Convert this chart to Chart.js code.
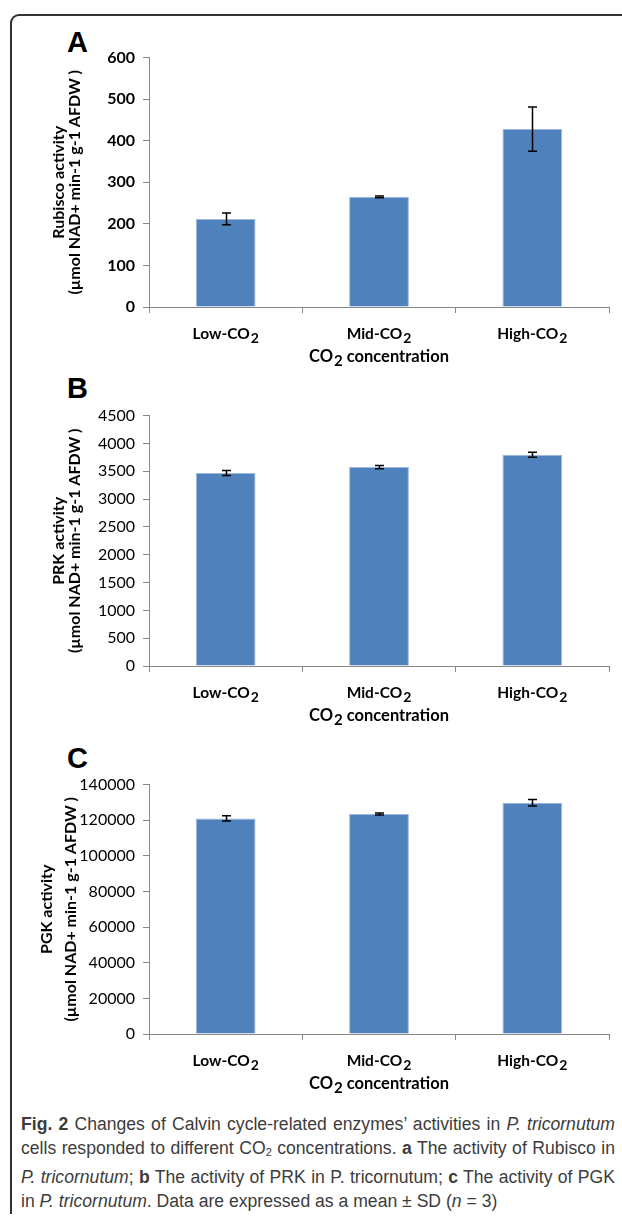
<!DOCTYPE html>
<html lang="en">
<head>
<meta charset="utf-8" />
<title>Calvin cycle enzyme activities</title>
<script src="https://cdn.jsdelivr.net/npm/chart.js/dist/chart.umd.min.js"></script>
<style>
  * { margin: 0; padding: 0; }
  body {
    width: 622px; height: 1217px; overflow: hidden;
    background: #fff; position: relative;
    font-family: Lato, sans-serif;
  }
  .frame {
    position: absolute; left: 10px; top: 14px;
    width: 700px; height: 1198px;
    border-top: 2px solid #333; border-left: 2px solid #333;
    border-top-left-radius: 9px;
  }
  .letter {
    position: absolute; left: 67px;
    font-family: "Liberation Sans", Arial, sans-serif;
    font-weight: bold; font-size: 29px; line-height: 1; color: #000;
  }
  .chartBox { position: absolute; left: 0; width: 622px; }
  .caption {
    position: absolute; left: 21px; top: 1112px; width: 594px;
    font-family: "Liberation Sans", sans-serif;
    font-size: 17.6px; line-height: 24.3px; color: #3c3c3c;
  }
  .caption div { text-align: justify; text-align-last: justify; white-space: nowrap; }
  .caption div.last { text-align-last: left; }
  .caption sub { font-size: 11px; vertical-align: -2px; }
</style>
</head>
<body>
  <div class="frame"></div>

  <div class="letter" style="top:28px">A</div>
  <div class="chartBox" style="top:40px;height:327px"><canvas id="chartA"></canvas></div>

  <div class="letter" style="top:374px">B</div>
  <div class="chartBox" style="top:398px;height:328px"><canvas id="chartB"></canvas></div>

  <div class="letter" style="top:744px">C</div>
  <div class="chartBox" style="top:767px;height:327px"><canvas id="chartC"></canvas></div>

  <div class="caption">
    <div><b>Fig. 2</b> Changes of Calvin cycle-related enzymes’ activities in <i>P. tricornutum</i></div>
    <div>cells responded to different CO<sub>2</sub> concentrations. <b>a</b> The activity of Rubisco in</div>
    <div><i>P. tricornutum</i>; <b>b</b> The activity of PRK in P. tricornutum; <b>c</b> The activity of PGK</div>
    <div class="last">in <i>P. tricornutum</i>. Data are expressed as a mean ± SD (<i>n</i> = 3)</div>
  </div>

<script>
  const categories = ["Low-CO₂", "Mid-CO₂", "High-CO₂"];
  const xTitle = "CO₂ concentration";

  const rubiscoValues = [212, 265, 428];
  const rubiscoSD = [14, 2, 53];

  const prkValues = [3470, 3575, 3795];
  const prkSD = [45, 30, 45];

  const pgkValues = [121000, 123500, 129800];
  const pgkSD = [1500, 500, 1800];

  const axisColor = "#878787";

  // draws text where "₂" becomes a lowered 2, the way Excel does it
  function drawSub(ctx, text, cx, cy, size) {
    const main = "bold " + size + "px Lato";
    const small = "bold " + (size - 1.5) + "px Lato";
    const parts = text.split("₂");
    ctx.font = small;
    const subW = ctx.measureText("2").width;
    ctx.font = main;
    let total = 0;
    parts.forEach((p) => (total += ctx.measureText(p).width));
    total += (subW + 1) * (parts.length - 1);
    let x = cx - total / 2;
    ctx.textAlign = "left";
    ctx.textBaseline = "middle";
    parts.forEach((p, i) => {
      ctx.font = main;
      ctx.fillText(p, x, cy);
      x += ctx.measureText(p).width;
      if (i < parts.length - 1) {
        ctx.font = small;
        ctx.fillText("2", x + 1, cy + 4);
        x += subW + 1;
      }
    });
  }

  const xLabelPlugin = {
    id: "xLabels",
    afterDraw(chart) {
      const ctx = chart.ctx;
      const xs = chart.scales.x;
      ctx.save();
      ctx.fillStyle = "#000";
      chart.data.labels.forEach((lab, i) => {
        drawSub(ctx, lab, xs.getPixelForValue(i), xs.top + 27, 15.5);
      });
      drawSub(ctx, xTitle, (xs.left + xs.right) / 2, xs.top + 50, 16.5);
      ctx.restore();
    },
  };

  const errorBarPlugin = {
    id: "errorBars",
    afterDatasetsDraw(chart) {
      const ctx = chart.ctx;
      const ys = chart.scales.y;
      const ds = chart.data.datasets[0];
      const meta = chart.getDatasetMeta(0);
      ctx.save();
      ctx.strokeStyle = "#000";
      ctx.lineWidth = 1.5;
      meta.data.forEach((bar, i) => {
        const top = ys.getPixelForValue(ds.data[i] + ds.sd[i]);
        const bot = ys.getPixelForValue(ds.data[i] - ds.sd[i]);
        const x = Math.round(bar.x) + 0.5;
        ctx.beginPath();
        ctx.moveTo(x, top); ctx.lineTo(x, bot);
        ctx.moveTo(x - 4.5, top); ctx.lineTo(x + 4.5, top);
        ctx.moveTo(x - 4.5, bot); ctx.lineTo(x + 4.5, bot);
        ctx.stroke();
      });
      ctx.restore();
    },
  };

  function makeChart(id, values, sd, yMax, step, titleLines, tickBold, titlePad, titleLH) {
    return new Chart(document.getElementById(id), {
      type: "bar",
      data: {
        labels: categories,
        datasets: [{
          data: values,
          sd: sd,
          backgroundColor: "#4F81BD",
          borderColor: "#9DB9DC",
          borderWidth: 1,
          categoryPercentage: 1,
          barPercentage: 0.39,
        }],
      },
      options: {
        responsive: true,
        maintainAspectRatio: false,
        animation: false,
        layout: { padding: { top: 15, right: 13, left: 0, bottom: 0 } },
        plugins: { legend: { display: false }, tooltip: { enabled: false } },
        scales: {
          x: {
            ticks: { display: false },
            grid: { offset: true, drawOnChartArea: false, drawTicks: true, tickLength: 6, color: axisColor },
            border: { color: axisColor, width: 1 },
            afterFit(s) { s.height = 60; },
          },
          y: {
            min: 0,
            max: yMax,
            ticks: {
              stepSize: step,
              color: "#000",
              padding: 8,
              font: { family: "Lato", size: 16, weight: tickBold ? "bold" : "normal" },
              callback: (v) => String(v),
            },
            grid: { drawOnChartArea: false, drawTicks: true, tickLength: 6, color: axisColor },
            border: { color: axisColor, width: 1 },
            title: {
              display: true,
              text: titleLines,
              color: "#000",
              font: { family: "Lato", size: 16, weight: "bold", lineHeight: titleLH },
              padding: { top: titlePad, bottom: 0 },
            },
            afterFit(s) { s.width = 149; },
          },
        },
      },
      plugins: [errorBarPlugin, xLabelPlugin],
    });
  }

  makeChart("chartA", rubiscoValues, rubiscoSD, 600, 100,
    ["Rubisco activity", "(µmol NAD+ min-1 g-1 AFDW )"], true, 51, "16px");
  makeChart("chartB", prkValues, prkSD, 4500, 500,
    ["PRK activity", "(µmol NAD+ min-1 g-1 AFDW )"], false, 51, "16px");
  makeChart("chartC", pgkValues, pgkSD, 140000, 20000,
    ["PGK activity", "(µmol NAD+ min-1 g-1 AFDW )"], false, 35, "24px");
</script>
</body>
</html>
